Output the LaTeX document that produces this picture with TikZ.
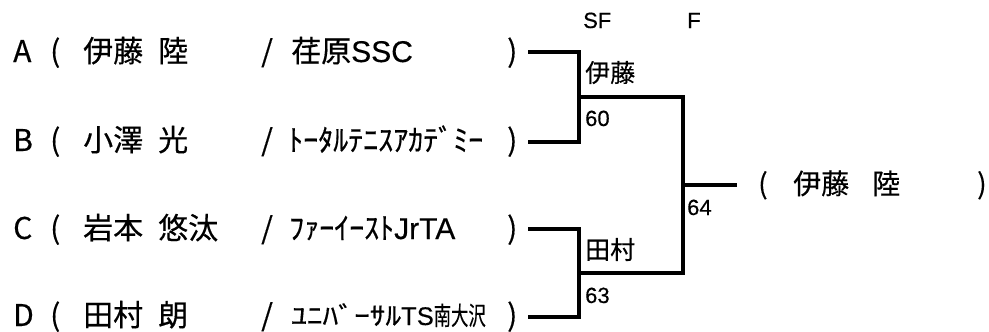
\documentclass[tikz,border=0pt]{standalone}
\usepackage{graphicx}
\usepackage{fontspec}
\setmainfont{Noto Sans CJK JP}[FakeBold=0.4]
\newfontfamily\lat{Liberation Sans}[FakeBold=0.4]
\tikzset{entry/.style = {anchor=base west, inner sep=0, font=\fontsize{30}{36}\selectfont}}
\tikzset{result/.style = {anchor=base west, inner sep=0, font=\fontsize{25}{30}\selectfont}}
\tikzset{score/.style = {anchor=base west, inner sep=0, font=\lat\fontsize{22}{26}\selectfont}}
\tikzset{bracket/.style = {line width=3.2pt}}

\begin{document}
\begin{tikzpicture}[x=1pt, y=-1pt]
      \useasboundingbox (0, 0) rectangle (989, 332);

      \node [score] (sf) at (583, 28) {SF};
      \node [score] (f) at (687, 28) {F};

      \node [entry] (la) at (13, 62) {A};
      \node [entry] (oa) at (50, 62) {(};
      \node [entry] (sa) at (83, 62) {伊藤};
      \node [entry] (ga) at (158, 62) {陸};
      \node [entry] (da) at (261, 62) {/};
      \node [entry] (ta) at (291, 62) {荏原{\lat SSC}};
      \node [entry] (ca) at (507, 62) {)};

      \node [entry] (lb) at (13, 151) {B};
      \node [entry] (ob) at (50, 151) {(};
      \node [entry] (sb) at (83, 151) {小澤};
      \node [entry] (gb) at (158, 151) {光};
      \node [entry] (db) at (261, 151) {/};
      \node [entry] (tb) at (288, 151) {ﾄｰﾀﾙﾃﾆｽｱｶﾃﾞﾐｰ};
      \node [entry] (cb) at (507, 151) {)};

      \node [entry] (lc) at (13, 239) {C};
      \node [entry] (oc) at (50, 239) {(};
      \node [entry] (sc) at (83, 239) {岩本};
      \node [entry] (gc) at (158, 239) {悠汰};
      \node [entry] (dc) at (261, 239) {/};
      \node [entry] (tc) at (289, 239) {ﾌｧｰｲｰｽﾄ{\lat JrTA}};
      \node [entry] (cc) at (507, 239) {)};

      \node [entry] (ld) at (13, 326) {D};
      \node [entry] (od) at (50, 326) {(};
      \node [entry] (sd) at (83, 326) {田村};
      \node [entry] (gd) at (158, 326) {朗};
      \node [entry] (dd) at (261, 326) {/};
      \node [entry, font=\fontsize{25.5}{30}\selectfont] (td) at (291, 325)
        {\resizebox{110pt}{\height}{ﾕﾆﾊﾞｰｻﾙ}{\lat TS}\resizebox{52pt}{\height}{南大沢}};
      \node [entry] (cd) at (507, 326) {)};

      \coordinate (a) at (528, 52);
      \coordinate (b) at (528, 142);
      \coordinate (c) at (528, 229);
      \coordinate (d) at (528, 317);
      \coordinate (semi1) at (579, 97);
      \coordinate (semi2) at (579, 273);
      \coordinate (final) at (683, 185);
      \coordinate (champ) at (737, 185);

      \draw [bracket] (a) -| (semi1) |- (b);
      \draw [bracket] (c) -| (semi2) |- (d);
      \draw [bracket] (semi1) -| (final);
      \draw [bracket] (semi2) -| (final);
      \draw [bracket] (final) -- (champ);

      \node [result] (w1) at (585, 82) {伊藤};
      \node [score] (s1) at (585, 126) {60};
      \node [result] (w2) at (585, 259) {田村};
      \node [score] (s2) at (585, 303) {63};
      \node [score] (s3) at (687, 215) {64};

      \node [entry, font=\fontsize{28}{34}\selectfont] (ow) at (758, 194) {(};
      \node [entry, font=\fontsize{28}{34}\selectfont] (sw) at (793, 194) {伊藤};
      \node [entry, font=\fontsize{28}{34}\selectfont] (gw) at (872, 194) {陸};
      \node [entry, font=\fontsize{28}{34}\selectfont] (cw) at (977, 194) {)};
    \end{tikzpicture}
\end{document}
